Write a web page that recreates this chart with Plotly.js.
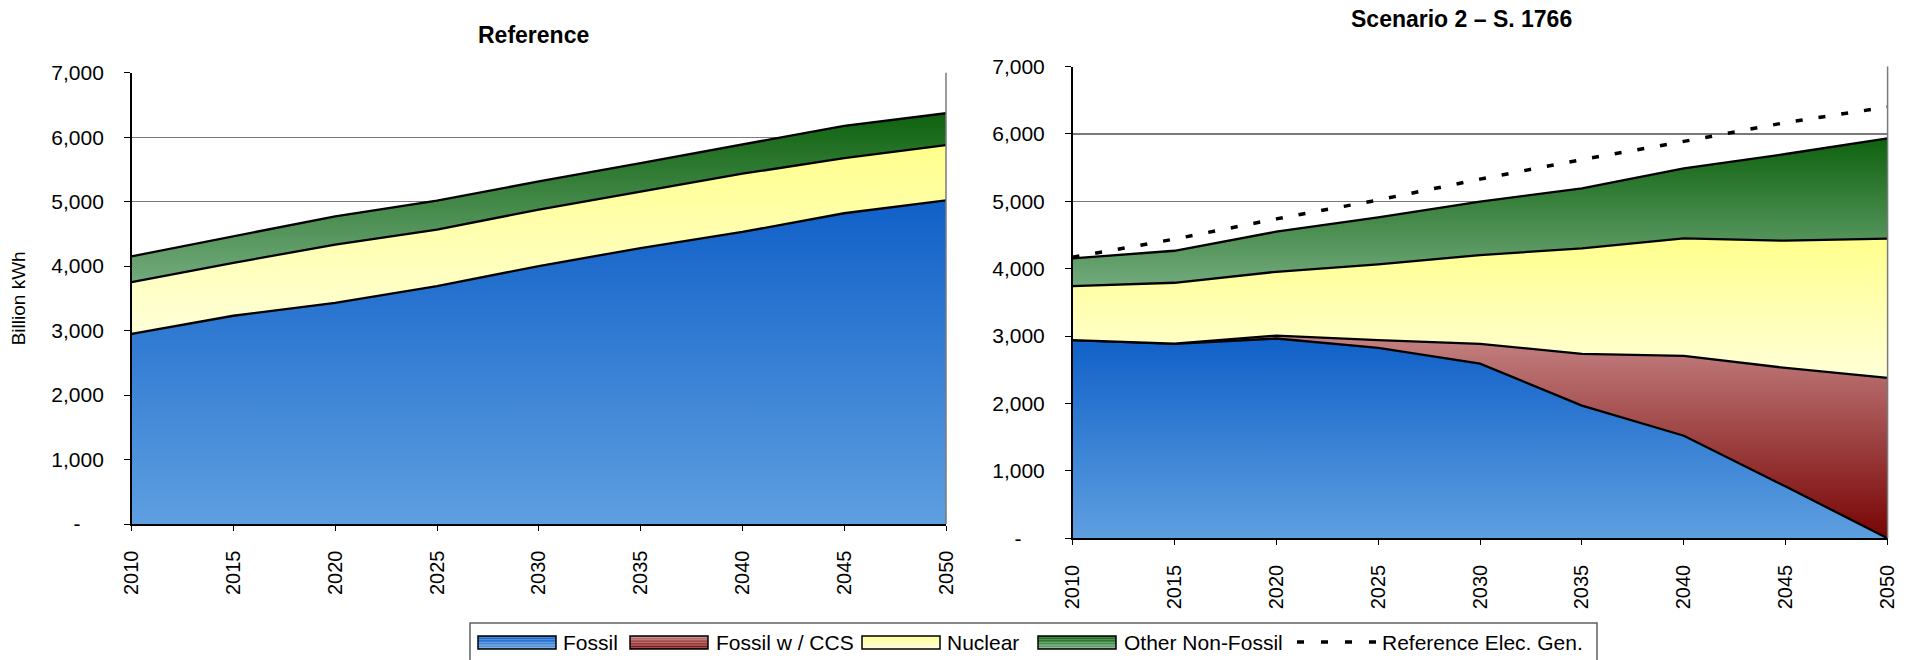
<!DOCTYPE html>
<html><head><meta charset="utf-8">
<script src="https://cdn.plot.ly/plotly-3.0.1.min.js"></script>
<style>html,body{margin:0;padding:0;background:#fff;overflow:hidden}#chart{width:1909px;height:660px}</style>
</head><body><div id="chart"></div>
<script>
// ---- data ----
const years = [2010, 2015, 2020, 2025, 2030, 2035, 2040, 2045, 2050];
const yearLabels = ['2010', '2015', '2020', '2025', '2030', '2035', '2040', '2045', '2050'];
// Reference scenario (Billion kWh)
const refFossil  = [2950, 3230, 3430, 3690, 4000, 4280, 4530, 4820, 5020];
const refNuclear = [800, 820, 905, 877, 876, 880, 903, 855, 856];
const refOther   = [402, 412, 438, 448, 438, 438, 448, 500, 495];
// Scenario 2 - S. 1766 (Billion kWh)
const s2Fossil   = [2940, 2885, 2965, 2826, 2593, 1968, 1522, 768, 0];
const s2CCS      = [0, 5, 44, 114, 292, 769, 1185, 1760, 2380];
const s2Nuclear  = [803, 902, 946, 1124, 1318, 1565, 1743, 1888, 2066];
const s2Other    = [410, 475, 595, 698, 792, 891, 1040, 1287, 1490];
const refElecGen = [4170, 4440, 4740, 5020, 5330, 5620, 5890, 6170, 6400];
// axis ticks
const yTickVals = [0, 1000, 2000, 3000, 4000, 5000, 6000, 7000];
const yTickText = ['-\u00a0\u00a0\u00a0\u00a0', '1,000', '2,000', '3,000', '4,000', '5,000', '6,000', '7,000'];
const seriesNames = ['Fossil', 'Fossil w / CCS', 'Nuclear', 'Other Non-Fossil', 'Reference Elec. Gen.'];
const chartTitles = ['Reference', 'Scenario 2 \u2013 S. 1766'];
const yTitle = 'Billion kWh';

// ---- styles ----
const W = 1909, H = 660;
const FONT = 'Liberation Sans, Arial, Helvetica, sans-serif';
const colors = {
  fossil: ['#5E9FE0', '#1060C8'],
  ccs: ['#780404', '#C48282'],
  nuclear: ['#FFFFD8', '#FFFF8C'],
  other: ['#72AA7C', '#0E620E']
};
const px = x => x / W, py = y => 1 - y / H;

function cum(...arrs) { return arrs[0].map((_, i) => arrs.reduce((s, a) => s + a[i], 0)); }
function grad(lo, hi, c) {
  return {type: 'vertical', start: lo, stop: hi, colorscale: [[0, c[0]], [1, c[1]]]};
}
function layer(name, y, xa, ya, group, lo, hi, c) {
  return {
    x: years, y: y, name: name, type: 'scatter', mode: 'lines', stackgroup: group,
    xaxis: xa, yaxis: ya, line: {color: '#000', width: 2.3}, fillcolor: c[1],
    fillgradient: grad(lo, hi, c), showlegend: false, hoverinfo: 'x+y+name'
  };
}

const rc1 = refFossil, rc2 = cum(refFossil, refNuclear), rc3 = cum(refFossil, refNuclear, refOther);
const sc1 = s2Fossil, sc2 = cum(s2Fossil, s2CCS), sc3 = cum(s2Fossil, s2CCS, s2Nuclear), sc4 = cum(s2Fossil, s2CCS, s2Nuclear, s2Other);
const mn = a => Math.min(...a), mx = a => Math.max(...a);

const traces = [
  layer(seriesNames[0], refFossil, 'x', 'y', 'ref', 0, mx(rc1), colors.fossil),
  layer(seriesNames[2], refNuclear, 'x', 'y', 'ref', mn(rc1), mx(rc2), colors.nuclear),
  layer(seriesNames[3], refOther, 'x', 'y', 'ref', mn(rc2), mx(rc3), colors.other),
  layer(seriesNames[0], s2Fossil, 'x2', 'y2', 's2', 0, mx(sc1), colors.fossil),
  layer(seriesNames[1], s2CCS, 'x2', 'y2', 's2', 0, mx(sc2), colors.ccs),
  layer(seriesNames[2], s2Nuclear, 'x2', 'y2', 's2', mn(sc2), mx(sc3), colors.nuclear),
  layer(seriesNames[3], s2Other, 'x2', 'y2', 's2', mn(sc3), mx(sc4), colors.other),
  {x: years, y: refElecGen, name: seriesNames[4], type: 'scatter', mode: 'lines',
   xaxis: 'x2', yaxis: 'y2', line: {color: '#000', width: 3.5, dash: '7px,16px'}, showlegend: false}
];

function xAxis(dom, anchor) {
  return {domain: dom, anchor: anchor, range: [years[0], years[years.length - 1]],
    tickmode: 'array', tickvals: years, ticktext: yearLabels, tickangle: -90,
    ticks: 'outside', ticklen: 5, tickwidth: 1, tickcolor: '#000', ticklabelstandoff: 12,
    showline: true, linecolor: '#000', linewidth: 1.5, showgrid: false, zeroline: false,
    tickfont: {family: FONT, size: 20, color: '#000'}, fixedrange: true};
}
function yAxis(dom, anchor, title) {
  const a = {domain: dom, anchor: anchor, range: [0, 7000],
    tickmode: 'array', tickvals: yTickVals, ticktext: yTickText,
    ticks: 'outside', ticklen: 6, tickwidth: 1, tickcolor: '#000', ticklabelstandoff: 16,
    showline: true, linecolor: '#000', linewidth: 1.5, showgrid: true, gridcolor: '#7a7a7a', gridwidth: 1.3,
    zeroline: false, tickfont: {family: FONT, size: 21, color: '#000'}, fixedrange: true};
  if (title) a.title = {text: title, font: {family: FONT, size: 19, color: '#000'}, standoff: 20};
  return a;
}

const shapes = [];
const annotations = [];
// right borders of plot areas
[['x', 'y'], ['x2', 'y2']].forEach(([xa, ya]) => {
  shapes.push({type: 'line', xref: xa + ' domain', yref: ya + ' domain', x0: 1, x1: 1, y0: 0, y1: 1,
    line: {color: '#7a7a7a', width: 1.5}});
});
// titles
annotations.push({text: '<b>' + chartTitles[0] + '</b>', xref: 'paper', yref: 'paper', x: px(533), y: py(35),
  xanchor: 'center', yanchor: 'middle', showarrow: false, font: {family: FONT, size: 23, color: '#000'}});
annotations.push({text: '<b>' + chartTitles[1] + '</b>', xref: 'paper', yref: 'paper', x: px(1461), y: py(19),
  xanchor: 'center', yanchor: 'middle', showarrow: false, font: {family: FONT, size: 23, color: '#000'}});

// custom legend
function hex2rgb(h) { return [1, 3, 5].map(i => parseInt(h.substr(i, 2), 16)); }
function mix(a, b, t) { const A = hex2rgb(a), B = hex2rgb(b); return 'rgb(' + A.map((v, i) => Math.round(v + (B[i] - v) * t)).join(',') + ')'; }
shapes.push({type: 'rect', xref: 'paper', yref: 'paper', x0: px(470), x1: px(1597), y0: py(664), y1: py(623),
  line: {color: '#606060', width: 1.5}, fillcolor: 'rgba(0,0,0,0)'});
const legY = 642, swT = 636, swB = 649;
const legItems = [
  {name: seriesNames[0], c: colors.fossil, x0: 478, x1: 556, tx: 562},
  {name: seriesNames[1], c: colors.ccs, x0: 630, x1: 708, tx: 715},
  {name: seriesNames[2], c: colors.nuclear, x0: 862, x1: 940, tx: 946},
  {name: seriesNames[3], c: colors.other, x0: 1038, x1: 1116, tx: 1123}
];
legItems.forEach(it => {
  const n = 8;
  for (let k = 0; k < n; k++) {
    const y0 = swT + (swB - swT) * k / n, y1 = swT + (swB - swT) * (k + 1) / n;
    const col = mix(it.c[1], it.c[0], (k + 0.5) / n);
    shapes.push({type: 'rect', xref: 'paper', yref: 'paper', x0: px(it.x0), x1: px(it.x1), y0: py(y1), y1: py(y0),
      line: {width: 0}, fillcolor: col});
  }
  shapes.push({type: 'rect', xref: 'paper', yref: 'paper', x0: px(it.x0), x1: px(it.x1), y0: py(swB), y1: py(swT),
    line: {color: '#000', width: 1.5}, fillcolor: 'rgba(0,0,0,0)'});
  annotations.push({text: it.name, xref: 'paper', yref: 'paper', x: px(it.tx), y: py(legY), xanchor: 'left', yanchor: 'middle',
    showarrow: false, font: {family: FONT, size: 21, color: '#000'}, borderpad: 0});
});
shapes.push({type: 'line', xref: 'paper', yref: 'paper', x0: px(1297), x1: px(1377), y0: py(legY), y1: py(legY),
  line: {color: '#000', width: 3.5, dash: '7px,17px'}});
annotations.push({text: seriesNames[4], xref: 'paper', yref: 'paper', x: px(1381), y: py(legY), xanchor: 'left', yanchor: 'middle',
  showarrow: false, font: {family: FONT, size: 21, color: '#000'}, borderpad: 0});

const layout = {
  width: W, height: H, margin: {l: 0, r: 0, t: 0, b: 0},
  paper_bgcolor: '#fff', plot_bgcolor: 'rgba(0,0,0,0)', showlegend: false,
  font: {family: FONT, color: '#000'},
  xaxis: xAxis([px(131.6), px(946)], 'y'),
  yaxis: yAxis([py(524), py(72.7)], 'x', yTitle),
  xaxis2: xAxis([px(1072.5), px(1887.6)], 'y2'),
  yaxis2: yAxis([py(538.3), py(66.6)], 'x2'),
  shapes: shapes, annotations: annotations
};
Plotly.newPlot('chart', traces, layout, {displayModeBar: false, staticPlot: true});
</script></body></html>
